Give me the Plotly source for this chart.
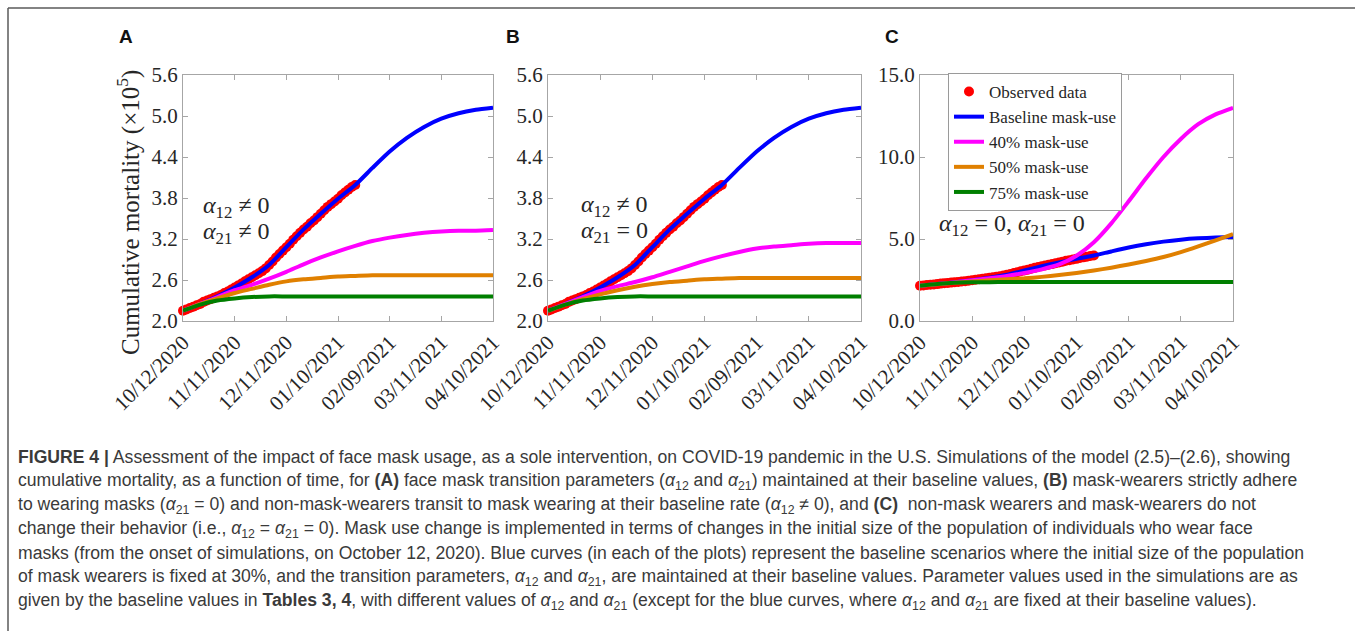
import plotly.graph_objects as go

W, H = 1355, 631

# ---------------- data (cumulative mortality, x 1e5) ----------------
tick_days = [0, 30, 60, 90, 120, 150, 180]
tick_labels = ["10/12/2020", "11/11/2020", "12/11/2020", "01/10/2021",
               "02/09/2021", "03/11/2021", "04/10/2021"]

obs_days = list(range(0, 101, 2))
observed = [2.15, 2.17, 2.19, 2.21, 2.23, 2.25, 2.28, 2.30, 2.32, 2.34,
            2.36, 2.38, 2.41, 2.43, 2.46, 2.49, 2.52, 2.55, 2.58, 2.61,
            2.64, 2.67, 2.70, 2.73, 2.77, 2.82, 2.87, 2.93, 2.98, 3.03,
            3.08, 3.13, 3.19, 3.24, 3.29, 3.34, 3.38, 3.43, 3.47, 3.52,
            3.57, 3.62, 3.67, 3.71, 3.75, 3.79, 3.84, 3.88, 3.92, 3.96, 3.99]

sim_days = [0, 10, 20, 30, 40, 50, 60, 70, 80, 90, 100, 110, 120, 130, 140, 150, 160, 170, 180]

baseline = [2.15, 2.25, 2.36, 2.49, 2.64, 2.82, 3.08, 3.34, 3.57, 3.79,
            3.99, 4.24, 4.48, 4.68, 4.84, 4.96, 5.04, 5.09, 5.12]

A_mask40 = [2.15, 2.25, 2.35, 2.45, 2.53, 2.62, 2.72, 2.83, 2.93, 3.02,
            3.10, 3.17, 3.22, 3.26, 3.29, 3.31, 3.32, 3.32, 3.33]
A_mask50 = [2.15, 2.25, 2.33, 2.41, 2.47, 2.53, 2.58, 2.61, 2.63, 2.65,
            2.66, 2.67, 2.67, 2.67, 2.67, 2.67, 2.67, 2.67, 2.67]
A_mask75 = [2.15, 2.24, 2.30, 2.33, 2.35, 2.36, 2.36, 2.36, 2.36, 2.36,
            2.36, 2.36, 2.36, 2.36, 2.36, 2.36, 2.36, 2.36, 2.36]

B_mask40 = [2.15, 2.25, 2.35, 2.44, 2.51, 2.57, 2.64, 2.72, 2.80, 2.88,
            2.95, 3.01, 3.06, 3.09, 3.11, 3.13, 3.14, 3.14, 3.14]
B_mask50 = [2.15, 2.24, 2.32, 2.39, 2.45, 2.50, 2.54, 2.57, 2.59, 2.61,
            2.62, 2.63, 2.63, 2.63, 2.63, 2.63, 2.63, 2.63, 2.63]
B_mask75 = [2.15, 2.24, 2.30, 2.33, 2.35, 2.36, 2.36, 2.36, 2.36, 2.36,
            2.36, 2.36, 2.36, 2.36, 2.36, 2.36, 2.36, 2.36, 2.36]

C_mask40 = [2.15, 2.25, 2.36, 2.48, 2.60, 2.74, 2.93, 3.15, 3.45, 3.98,
            4.80, 5.95, 7.30, 8.70, 10.00, 11.10, 12.00, 12.60, 13.00]
C_mask50 = [2.15, 2.24, 2.33, 2.41, 2.48, 2.54, 2.60, 2.69, 2.80, 2.93,
            3.08, 3.25, 3.45, 3.66, 3.90, 4.20, 4.55, 4.92, 5.30]
C_mask75 = [2.15, 2.26, 2.33, 2.36, 2.37, 2.38, 2.38, 2.38, 2.38, 2.38,
            2.38, 2.38, 2.38, 2.38, 2.38, 2.38, 2.38, 2.38, 2.38]

AB_yticks = [2.0, 2.6, 3.2, 3.8, 4.4, 5.0, 5.6]
C_yticks = [0.0, 5.0, 10.0, 15.0]

series_names = ["Observed data", "Baseline mask-use", "40% mask-use",
                "50% mask-use", "75% mask-use"]
colors = ["#ff0000", "#0000ff", "#ff00ff", "#e08000", "#007f00"]

panels = [
    dict(label="A", sims=[baseline, A_mask40, A_mask50, A_mask75], yticks=AB_yticks,
         yrange=[2.0, 5.6], xpx=(183, 493), lblx=126,
         notes=[("<i>α</i><sub>12</sub> ≠ 0", 201, 207), ("<i>α</i><sub>21</sub> ≠ 0", 201, 233)]),
    dict(label="B", sims=[baseline, B_mask40, B_mask50, B_mask75], yticks=AB_yticks,
         yrange=[2.0, 5.6], xpx=(548, 861), lblx=513,
         notes=[("<i>α</i><sub>12</sub> ≠ 0", 579, 206), ("<i>α</i><sub>21</sub> = 0", 579, 232)]),
    dict(label="C", sims=[baseline, C_mask40, C_mask50, C_mask75], yticks=C_yticks,
         yrange=[0.0, 15.0], xpx=(920, 1233), lblx=892,
         notes=[("<i>α</i><sub>12</sub> = 0, <i>α</i><sub>21</sub> = 0", 937, 225)]),
]

PLOT_TOP, PLOT_BOT = 75, 321
SERIF = "Liberation Serif"
SANS = "Liberation Sans"
AXC = "#a6a6a6"
TXC = "#262626"


def fx(px):
    return px / W


def fy(py):
    return 1 - py / H


fig = go.Figure()
layout_axes = {}
annotations = []

for i, p in enumerate(panels):
    n = "" if i == 0 else str(i + 1)
    xa, ya = "x" + n, "y" + n
    last = i == 2
    fig.add_trace(go.Scatter(
        x=obs_days, y=observed, mode="markers", xaxis=xa, yaxis=ya,
        marker=dict(color=colors[0], size=10, line=dict(width=0)),
        name=series_names[0], showlegend=last, cliponaxis=False))
    for k, s in enumerate(p["sims"]):
        fig.add_trace(go.Scatter(
            x=sim_days, y=s, mode="lines", xaxis=xa, yaxis=ya,
            line=dict(color=colors[k + 1], width=4, shape="spline", smoothing=0.6),
            name=series_names[k + 1], showlegend=last))
    common = dict(showline=True, linecolor=AXC, linewidth=1, mirror="ticks",
                  ticks="inside", ticklen=5, tickcolor=AXC, showgrid=False,
                  zeroline=False, automargin=False,
                  tickfont=dict(family=SERIF, size=21, color=TXC))
    layout_axes["xaxis" + n] = dict(
        domain=[fx(p["xpx"][0]), fx(p["xpx"][1])], range=[0, 180],
        tickvals=tick_days, ticktext=tick_labels, tickangle=-45,
        anchor=ya, **common)
    layout_axes["yaxis" + n] = dict(
        domain=[fy(PLOT_BOT), fy(PLOT_TOP)], range=p["yrange"],
        tickvals=p["yticks"], ticktext=["%.1f" % v for v in p["yticks"]],
        anchor=xa, **common)
    annotations.append(dict(
        x=fx(p["lblx"]), y=fy(36), xref="paper", yref="paper", text="<b>%s</b>" % p["label"],
        showarrow=False, xanchor="center", yanchor="middle",
        font=dict(family=SANS, size=19, color="#111111")))
    for txt, x0, y0 in p["notes"]:
        annotations.append(dict(
            x=fx(x0), y=fy(y0), xref="paper", yref="paper", text=txt,
            showarrow=False, xanchor="left", yanchor="middle",
            font=dict(family=SERIF, size=24, color=TXC)))

annotations.append(dict(
    x=fx(129), y=fy(213), xref="paper", yref="paper",
    text="Cumulative mortality (×10<sup>5</sup>)", textangle=-90,
    showarrow=False, xanchor="center", yanchor="middle",
    font=dict(family=SERIF, size=25, color=TXC)))

caption = [
    "<b>FIGURE 4 |</b> Assessment of the impact of face mask usage, as a sole intervention, on COVID-19 pandemic in the U.S. Simulations of the model (2.5)–(2.6), showing",
    "cumulative mortality, as a function of time, for <b>(A)</b> face mask transition parameters (<i>α</i><sub>12</sub> and <i>α</i><sub>21</sub>) maintained at their baseline values, <b>(B)</b> mask-wearers strictly adhere",
    "to wearing masks (<i>α</i><sub>21</sub> = 0) and non-mask-wearers transit to mask wearing at their baseline rate (<i>α</i><sub>12</sub> ≠ 0), and <b>(C)</b>  non-mask wearers and mask-wearers do not",
    "change their behavior (i.e., <i>α</i><sub>12</sub> = <i>α</i><sub>21</sub> = 0). Mask use change is implemented in terms of changes in the initial size of the population of individuals who wear face",
    "masks (from the onset of simulations, on October 12, 2020). Blue curves (in each of the plots) represent the baseline scenarios where the initial size of the population",
    "of mask wearers is fixed at 30%, and the transition parameters, <i>α</i><sub>12</sub> and <i>α</i><sub>21</sub>, are maintained at their baseline values. Parameter values used in the simulations are as",
    "given by the baseline values in <b>Tables 3, 4</b>, with different values of <i>α</i><sub>12</sub> and <i>α</i><sub>21</sub> (except for the blue curves, where <i>α</i><sub>12</sub> and <i>α</i><sub>21</sub> are fixed at their baseline values).",
]
for j, line in enumerate(caption):
    annotations.append(dict(
        x=fx(16), y=fy(457 + 24 * j), xref="paper", yref="paper", text=line,
        showarrow=False, xanchor="left", yanchor="middle", align="left",
        font=dict(family=SANS, size=17.6, color="#3a3a3a")))

shapes = [
    dict(type="line", xref="paper", yref="paper", x0=fx(8), x1=1, y0=fy(8), y1=fy(8),
         line=dict(color="#5a5a5a", width=1.5)),
    dict(type="line", xref="paper", yref="paper", x0=fx(8), x1=fx(8), y0=fy(8), y1=0,
         line=dict(color="#5a5a5a", width=1.5)),
]

fig.update_layout(
    template="none",
    width=W, height=H, autosize=False,
    margin=dict(l=0, r=0, t=0, b=0, pad=0, autoexpand=False),
    paper_bgcolor="white", plot_bgcolor="white",
    annotations=annotations, shapes=shapes,
    legend=dict(x=fx(948), y=fy(73), xanchor="left", yanchor="top",
                bgcolor="white", bordercolor="#9a9a9a", borderwidth=1,
                font=dict(family=SERIF, size=17, color=TXC),
                itemwidth=30, tracegroupgap=0),
    **layout_axes)

fig.write_html("out.html")
